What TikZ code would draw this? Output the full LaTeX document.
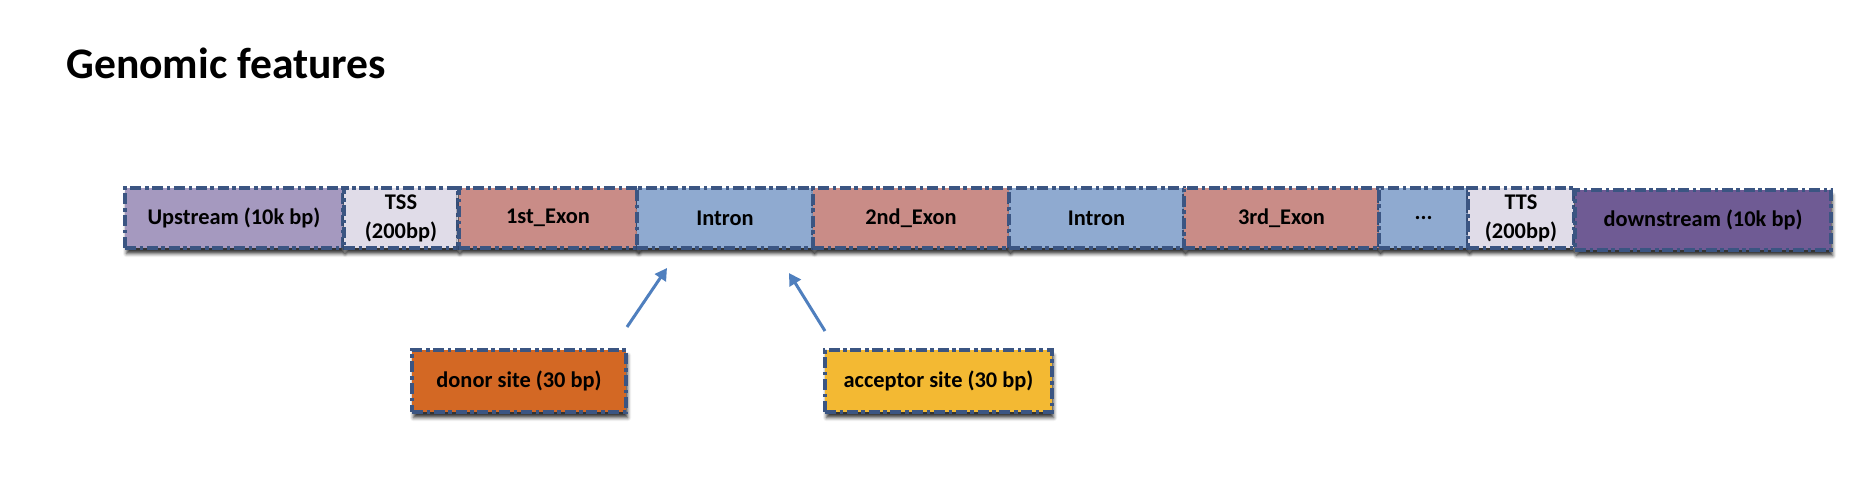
\documentclass[tikz,border=0pt]{standalone}
\usepackage{fontspec}
\setmainfont{Carlito}
\usetikzlibrary{arrows.meta,shadows.blur}
\definecolor{bordc}{HTML}{3B5582}
\definecolor{upc}{HTML}{A599BF}
\definecolor{tssc}{HTML}{E0DCE8}
\definecolor{exonc}{HTML}{C98C87}
\definecolor{intronc}{HTML}{8FAAD0}
\definecolor{downc}{HTML}{6F5B94}
\definecolor{donorc}{HTML}{D36824}
\definecolor{accc}{HTML}{F3B933}
\definecolor{arrc}{HTML}{4F7FBE}
\tikzset{
  seg/.style={draw=bordc, line width=2pt, dash pattern=on 5.5pt off 1.8pt on 1.8pt off 1.8pt,
    minimum height=30pt, inner sep=0pt, align=center,
    font=\fontsize{11.2}{14.5}\selectfont\bfseries,
    blur shadow={shadow xshift=0.8pt, shadow yshift=-2.8pt, shadow blur radius=1.8pt, shadow opacity=80}},
  site/.style={seg, minimum height=31pt},
  arr/.style={draw=arrc, line width=1.5pt, -{Triangle[length=6pt,width=6.5pt]}},
}
\begin{document}
\begin{tikzpicture}[x=0.5pt,y=-0.5pt]
\useasboundingbox (0,0) rectangle (1859,489);
\node[anchor=base west, inner sep=0pt, font=\fontsize{21.8}{26}\selectfont\bfseries] (title) at (66,78) {Genomic features};
% main row
\node[seg, fill=upc, minimum width=109pt] (up) at (234,218) {Upstream (10k bp)};
\node[seg, fill=tssc, minimum width=57pt] (tss) at (401,218) {TSS\\(200bp)};
\node[seg, fill=exonc, minimum width=89.5pt] (ex1) at (548,218) {1st\_Exon};
\node[seg, fill=intronc, minimum width=88pt] (in1) at (725,218) {Intron};
\node[seg, fill=exonc, minimum width=98pt] (ex2) at (911,218) {2nd\_Exon};
\node[seg, fill=intronc, minimum width=87.5pt] (in2) at (1096.5,218) {Intron};
\node[seg, fill=exonc, minimum width=97.5pt] (ex3) at (1281.5,218) {3rd\_Exon};
\node[seg, fill=intronc, minimum width=44.5pt] (dots) at (1423.5,218) {...};
\node[seg, fill=tssc, minimum width=53pt] (tts) at (1521,218) {TTS\\(200bp)};
\node[seg, fill=downc, minimum width=128pt] (down) at (1703,220) {downstream (10k bp)};
% sites
\node[site, fill=donorc, minimum width=107pt] (donor) at (519,381) {donor site (30 bp)};
\node[site, fill=accc, minimum width=113.5pt] (acc) at (938.5,381) {acceptor site (30 bp)};
% arrows
\coordinate (dt) at (627,327);
\coordinate (dh) at (667,268);
\coordinate (at) at (825,331);
\coordinate (ah) at (789,273);
\draw[arr] (dt) -- (dh);
\draw[arr] (at) -- (ah);
\end{tikzpicture}
\end{document}
